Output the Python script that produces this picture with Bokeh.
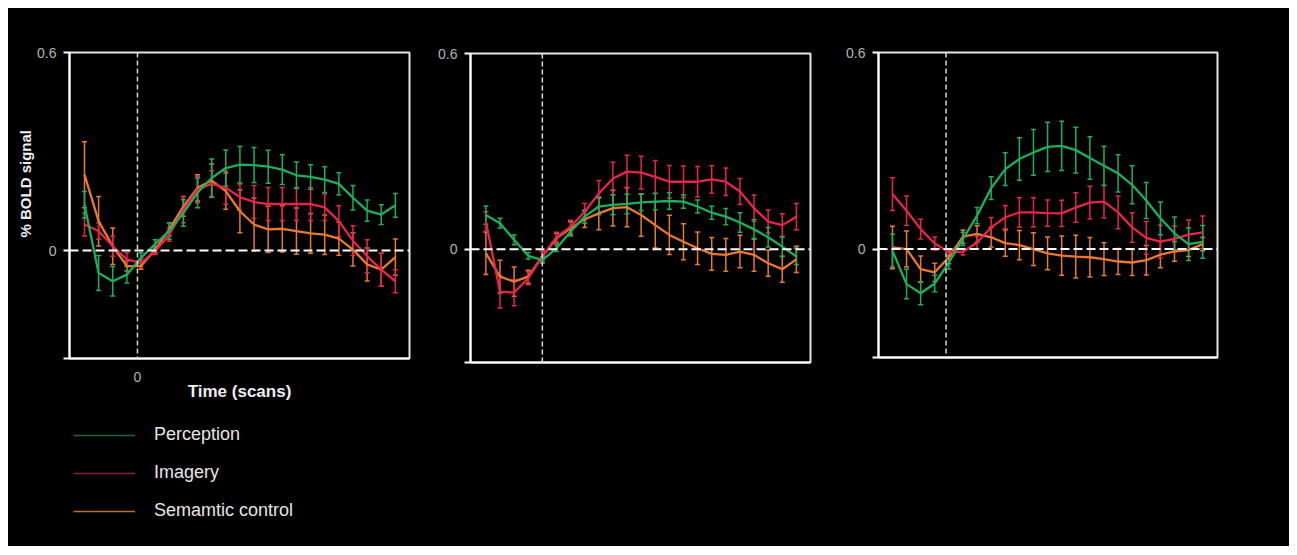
from bokeh.plotting import figure
from bokeh.layouts import row, column
from bokeh.models import (ColumnDataSource, Whisker, TeeHead, Span, Range1d,
                          FixedTicker, Legend, LegendItem, Title)
from bokeh.embed import file_html
from bokeh.resources import INLINE

# ---------------- data ----------------
scans = list(range(23))
series_names = ["Perception", "Imagery", "Semamtic control"]

p1_perception = [0.139, -0.068, -0.093, -0.073, -0.022, 0.020, 0.059, 0.114, 0.175, 0.220, 0.250, 0.260,
                 0.259, 0.254, 0.245, 0.228, 0.223, 0.215, 0.202, 0.160, 0.121, 0.109, 0.137]
p1_perception_err = [0.04, 0.053, 0.045, 0.025, 0.015, 0.013, 0.025, 0.04, 0.045, 0.057, 0.055, 0.055,
                     0.053, 0.05, 0.045, 0.04, 0.037, 0.039, 0.034, 0.037, 0.032, 0.03, 0.036]
p1_imagery = [0.079, 0.059, 0.013, -0.027, -0.037, -0.002, 0.048, 0.124, 0.185, 0.202, 0.190, 0.162,
              0.147, 0.141, 0.141, 0.141, 0.141, 0.131, 0.089, 0.030, -0.017, -0.058, -0.093]
p1_imagery_err = [0.035, 0.025, 0.03, 0.02, 0.012, 0.01, 0.02, 0.04, 0.04, 0.04, 0.05, 0.04,
                  0.05, 0.05, 0.05, 0.05, 0.05, 0.04, 0.047, 0.045, 0.05, 0.05, 0.035]
p1_semantic = [0.230, 0.089, 0.013, -0.047, -0.047, 0.003, 0.064, 0.134, 0.190, 0.212, 0.180, 0.119,
               0.079, 0.064, 0.066, 0.059, 0.052, 0.048, 0.036, 0.003, -0.042, -0.058, -0.020]
p1_semantic_err = [0.1, 0.075, 0.055, 0.015, 0.01, 0.01, 0.02, 0.03, 0.04, 0.05, 0.055, 0.065,
                   0.08, 0.07, 0.07, 0.07, 0.06, 0.06, 0.05, 0.05, 0.05, 0.05, 0.055]

p2_perception = [0.105, 0.080, 0.029, -0.020, -0.033, 0.003, 0.054, 0.100, 0.131, 0.136, 0.139, 0.144,
                 0.146, 0.148, 0.146, 0.131, 0.112, 0.100, 0.082, 0.061, 0.037, 0.008, -0.022]
p2_perception_err = [0.028, 0.015, 0.015, 0.01, 0.01, 0.01, 0.013, 0.02, 0.025, 0.03, 0.03, 0.025,
                     0.025, 0.025, 0.02, 0.02, 0.02, 0.025, 0.03, 0.03, 0.03, 0.03, 0.025]
p2_imagery = [0.085, -0.130, -0.133, -0.089, -0.022, 0.037, 0.069, 0.115, 0.171, 0.217, 0.238, 0.235,
              0.222, 0.207, 0.207, 0.207, 0.214, 0.207, 0.177, 0.126, 0.085, 0.074, 0.100]
p2_imagery_err = [0.03, 0.05, 0.04, 0.02, 0.015, 0.015, 0.02, 0.025, 0.04, 0.05, 0.05, 0.05,
                  0.05, 0.05, 0.048, 0.047, 0.042, 0.042, 0.04, 0.04, 0.035, 0.035, 0.04]
p2_semantic = [-0.012, -0.084, -0.099, -0.084, -0.022, 0.034, 0.064, 0.092, 0.110, 0.126, 0.129, 0.105,
               0.074, 0.044, 0.023, 0.003, -0.014, -0.017, -0.007, -0.017, -0.043, -0.061, -0.031]
p2_semantic_err = [0.065, 0.05, 0.045, 0.02, 0.015, 0.015, 0.02, 0.025, 0.05, 0.055, 0.06, 0.065,
                   0.07, 0.06, 0.055, 0.05, 0.05, 0.05, 0.05, 0.05, 0.04, 0.04, 0.04]

p3_perception = [-0.005, -0.107, -0.135, -0.105, -0.041, 0.031, 0.102, 0.186, 0.244, 0.275, 0.295, 0.312,
                 0.315, 0.302, 0.278, 0.254, 0.231, 0.196, 0.148, 0.094, 0.048, 0.015, 0.022]
p3_perception_err = [0.05, 0.045, 0.035, 0.025, 0.02, 0.02, 0.025, 0.035, 0.05, 0.065, 0.07, 0.075,
                     0.075, 0.07, 0.065, 0.06, 0.057, 0.058, 0.055, 0.05, 0.05, 0.05, 0.05]
p3_imagery = [0.168, 0.117, 0.061, 0.017, -0.010, -0.008, 0.020, 0.066, 0.097, 0.112, 0.112, 0.110,
              0.109, 0.127, 0.142, 0.145, 0.112, 0.066, 0.034, 0.023, 0.031, 0.044, 0.051]
p3_imagery_err = [0.05, 0.045, 0.03, 0.02, 0.01, 0.01, 0.02, 0.03, 0.035, 0.045, 0.045, 0.04,
                  0.04, 0.045, 0.05, 0.05, 0.05, 0.045, 0.05, 0.05, 0.04, 0.045, 0.05]
p3_semantic = [0.005, 0.000, -0.061, -0.071, -0.025, 0.038, 0.046, 0.036, 0.018, 0.012, 0.000, -0.013,
               -0.020, -0.023, -0.025, -0.031, -0.038, -0.041, -0.034, -0.017, -0.007, -0.003, 0.015]
p3_semantic_err = [0.065, 0.055, 0.04, 0.028, 0.02, 0.02, 0.025, 0.03, 0.04, 0.045, 0.05, 0.05,
                   0.06, 0.065, 0.06, 0.05, 0.04, 0.04, 0.045, 0.04, 0.03, 0.02, 0.02]

# stimulus onset (in scan units) and y-axis bottoms per panel
onsets = [3.75, 4.0, 3.8]
y_bottoms = [-0.327, -0.347, -0.331]
y_top = 0.6

# ---------------- styling ----------------
colors = {"Perception": "#1fae5a", "Imagery": "#e5264a", "Semamtic control": "#e8792f"}
legend_colors = {"Perception": "#22663d", "Imagery": "#8a1f40", "Semamtic control": "#b07040"}
FONT = "Liberation Sans"


def make_panel(width, bl, br, bt, bb, xr, ymin, onset, data, first=False):
    p = figure(width=width, height=400, output_backend="svg", toolbar_location=None,
               x_range=Range1d(*xr), y_range=Range1d(ymin, y_top),
               background_fill_color="black", border_fill_color="black",
               min_border_left=bl, min_border_right=br, min_border_top=bt,
               min_border_bottom=bb)
    p.grid.visible = False
    p.outline_line_color = "#e6e6e6"
    p.outline_line_width = 2

    # y axis
    ya = p.yaxis[0]
    ya.ticker = FixedTicker(ticks=[ymin, 0, y_top])
    ya.major_label_overrides = {ymin: "", 0: "0", y_top: "0.6"}
    ya.axis_line_color = "white"
    ya.axis_line_width = 2
    ya.major_tick_line_color = "white"
    ya.major_tick_line_width = 2
    ya.major_tick_out = 6
    ya.major_tick_in = 0
    ya.major_label_standoff = 7
    ya.major_label_text_color = "#b4b4b4"
    ya.major_label_text_font = FONT
    ya.major_label_text_font_size = "14px"

    # x axis
    xa = p.xaxis[0]
    xa.axis_line_color = "white"
    xa.axis_line_width = 2
    xa.major_tick_out = 0
    xa.major_tick_in = 0
    if first:
        xa.ticker = FixedTicker(ticks=[onset])
        xa.major_label_overrides = {onset: "0"}
        xa.major_label_standoff = 13
        xa.major_label_text_color = "#b4b4b4"
        xa.major_label_text_font = FONT
        xa.major_label_text_font_size = "14px"
        xa.axis_label = "Time (scans)"
        xa.axis_label_text_font = FONT
        xa.axis_label_text_font_style = "bold"
        xa.axis_label_text_font_size = "17px"
        xa.axis_label_text_color = "#eeeeee"
        xa.axis_label_standoff = -3
        p.add_layout(Title(text="% BOLD signal", align="left", offset=121, standoff=2,
                           text_font=FONT, text_font_style="bold",
                           text_font_size="15px", text_color="#f0f0f0"), "left")
    else:
        xa.ticker = FixedTicker(ticks=[])
        xa.major_label_text_font_size = "0px"

    p.add_layout(Span(location=0, dimension="width", line_color="white",
                      line_width=2, line_dash="9 4"))
    p.add_layout(Span(location=onset, dimension="height", line_color="#d8d8d8",
                      line_width=1.5, line_dash="5 3"))

    for name in ["Semamtic control", "Imagery", "Perception"]:
        vals, errs = data[name]
        src = ColumnDataSource(dict(x=scans, y=vals,
                                    lo=[v - e for v, e in zip(vals, errs)],
                                    hi=[v + e for v, e in zip(vals, errs)]))
        c = colors[name]
        p.add_layout(Whisker(base="x", lower="lo", upper="hi", source=src,
                             line_color=c, line_width=1.5,
                             upper_head=TeeHead(size=5, line_color=c, line_width=1.5),
                             lower_head=TeeHead(size=5, line_color=c, line_width=1.5)))
        p.line("x", "y", source=src, line_color=c, line_width=2.3)
    return p


p1 = make_panel(426, 61, 25, 44, 50, (-1.06, 23.0), y_bottoms[0], onsets[0],
                {"Perception": (p1_perception, p1_perception_err),
                 "Imagery": (p1_imagery, p1_imagery_err),
                 "Semamtic control": (p1_semantic, p1_semantic_err)}, first=True)
p2 = make_panel(406, 36, 30, 45, 46, (-1.09, 23.0), y_bottoms[1], onsets[1],
                {"Perception": (p2_perception, p2_perception_err),
                 "Imagery": (p2_imagery, p2_imagery_err),
                 "Semamtic control": (p2_semantic, p2_semantic_err)})
p3 = make_panel(449, 38, 72, 44, 51, (-0.99, 23.05), y_bottoms[2], onsets[2],
                {"Perception": (p3_perception, p3_perception_err),
                 "Imagery": (p3_imagery, p3_imagery_err),
                 "Semamtic control": (p3_semantic, p3_semantic_err)})

# ---------------- legend strip ----------------
pl = figure(width=1281, height=138, output_backend="svg", toolbar_location=None,
            x_range=Range1d(0, 1), y_range=Range1d(0, 1), x_axis_type=None, y_axis_type=None,
            background_fill_color="black", border_fill_color="black",
            min_border_left=0, min_border_right=0, min_border_top=0, min_border_bottom=0)
pl.outline_line_color = None
pl.grid.visible = False
nan = float("nan")
items = []
for name in series_names:
    r = pl.line(x=[0, 1], y=[nan, nan], line_color=legend_colors[name], line_width=1.5)
    items.append(LegendItem(label=name, renderers=[r]))
leg = Legend(items=items, location=(65, 25), orientation="vertical",
             glyph_width=62, glyph_height=20, label_height=20, label_standoff=19,
             spacing=17, padding=0, margin=0,
             label_text_font=FONT, label_text_font_size="18px", label_text_color="#e6e6e6",
             background_fill_alpha=0, border_line_alpha=0)
pl.add_layout(leg)

layout = column(row(column(p1), column(p2), column(p3)), pl, spacing=0)
layout.styles = {"background-color": "black", "margin": "8px"}

open("out.html", "w").write(file_html(layout, INLINE))
